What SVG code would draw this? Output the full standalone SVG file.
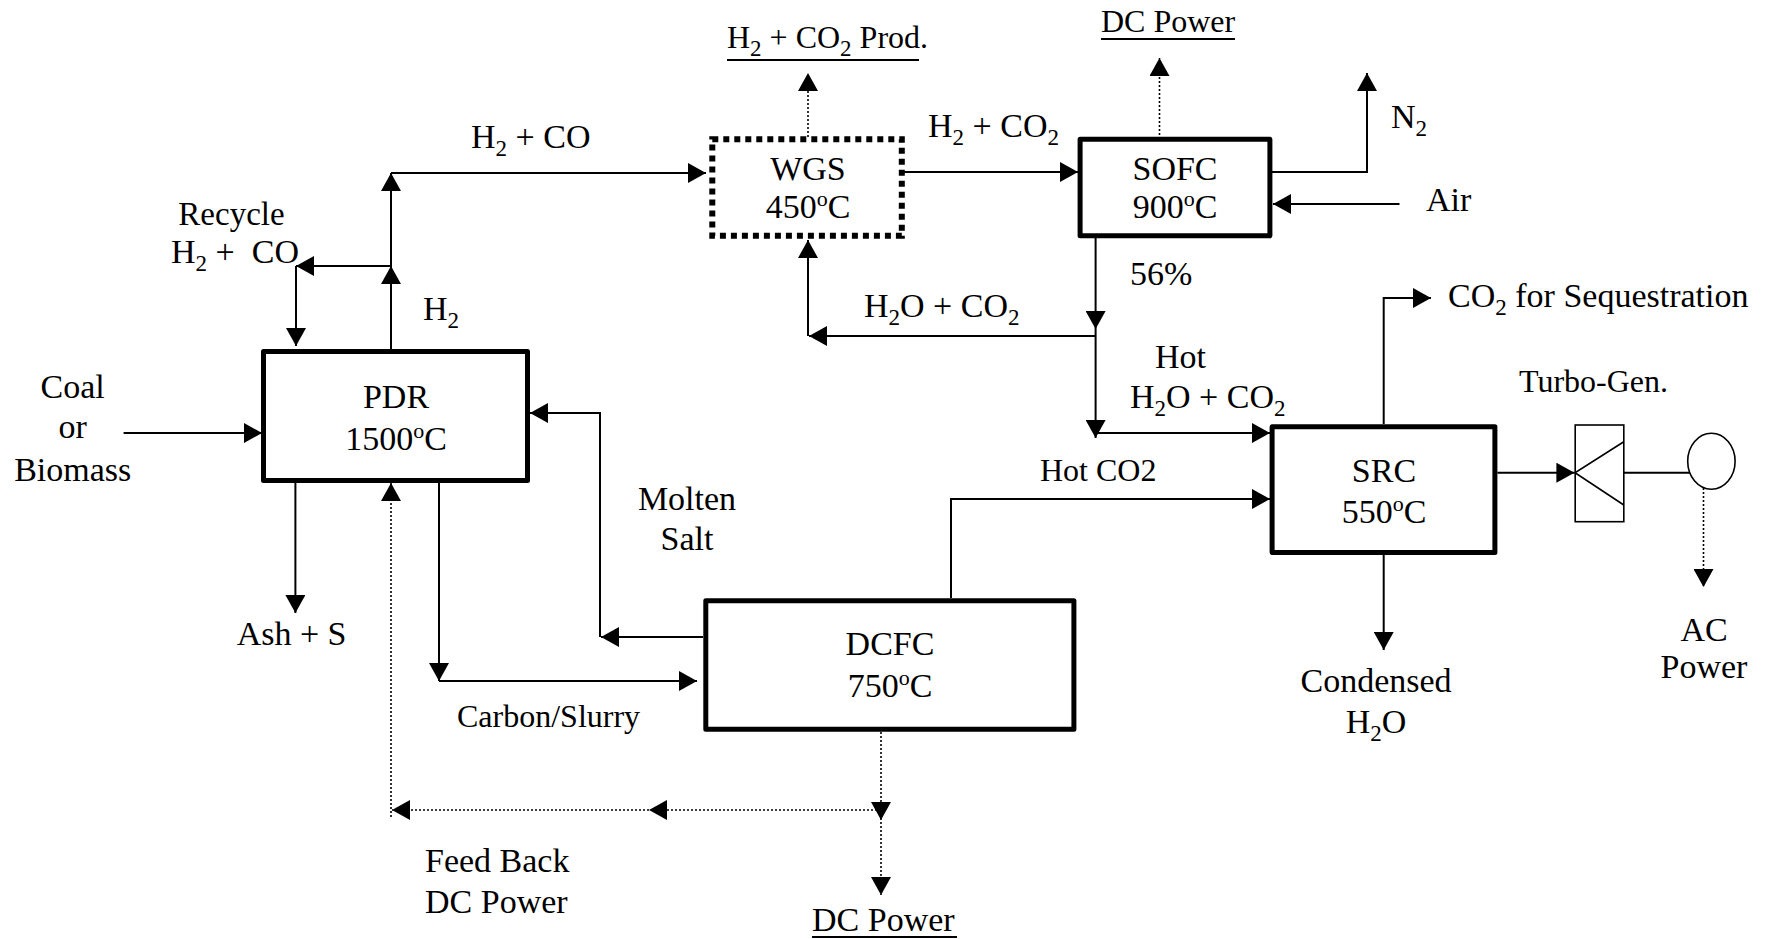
<svg xmlns="http://www.w3.org/2000/svg" width="1769" height="939" viewBox="0 0 1769 939">
<style>
text{font-family:"Liberation Serif","Times New Roman",serif;font-size:34px;fill:#000;white-space:pre}
.s32{font-size:32px}
.sub{font-size:23px}
.sup{font-size:22px}
.mid{text-anchor:middle}
.box{fill:#fff;stroke:#000;stroke-width:5;stroke-linejoin:round}
.wgs{fill:#fff;stroke:#000;stroke-width:6;stroke-dasharray:6 5}
.c{fill:none;stroke:#000;stroke-width:2}
.d{fill:none;stroke:#000;stroke-width:1.6;stroke-dasharray:2 2}
.ul{stroke:#000;stroke-width:2}
.thin{fill:#fff;stroke:#000;stroke-width:1.6}
</style>
<defs>
<marker id="ah" viewBox="0 0 18 20" refX="18" refY="10" markerWidth="18" markerHeight="20" markerUnits="userSpaceOnUse" orient="auto">
<path d="M0,0 L18,10 L0,20 z" fill="#000"/>
</marker>
</defs>
<rect width="1769" height="939" fill="#fff"/>

<g id="connectors">
<path class="c" d="M123.6,433 H262" marker-end="url(#ah)"/>
<path class="c" d="M391,349 V266" marker-end="url(#ah)"/>
<path class="c" d="M391,266 V173" marker-end="url(#ah)"/>
<path class="c" d="M391,173 H706" marker-end="url(#ah)"/>
<path class="c" d="M391,266 H296" marker-end="url(#ah)"/>
<path class="c" d="M296,266 V346" marker-end="url(#ah)"/>
<path class="c" d="M295.4,483 V613" marker-end="url(#ah)"/>
<path class="c" d="M439,473 V681" marker-end="url(#ah)"/>
<path class="c" d="M439,681 H697" marker-end="url(#ah)"/>
<path class="c" d="M703,637 H601" marker-end="url(#ah)"/>
<path class="c" d="M600,637 V413 H530" marker-end="url(#ah)"/>
<path class="d" d="M881,732 V820" marker-end="url(#ah)"/>
<path class="d" d="M881,810 V895" marker-end="url(#ah)"/>
<path class="d" d="M881,810 H649" marker-end="url(#ah)"/>
<path class="d" d="M649,810 H392" marker-end="url(#ah)"/>
<path class="d" d="M391,817 V483" marker-end="url(#ah)"/>
<path class="c" d="M951,598 V499 H1270" marker-end="url(#ah)"/>
<path class="c" d="M904,172 H1078" marker-end="url(#ah)"/>
<path class="d" d="M808,137 V73" marker-end="url(#ah)"/>
<path class="d" d="M1159.5,135 V58" marker-end="url(#ah)"/>
<path class="c" d="M1272,172 H1367 V73" marker-end="url(#ah)"/>
<path class="c" d="M1399.5,204 H1273" marker-end="url(#ah)"/>
<path class="c" d="M1095.6,238 V329" marker-end="url(#ah)"/>
<path class="c" d="M1095.6,329 V438" marker-end="url(#ah)"/>
<path class="c" d="M1095.6,336 H809" marker-end="url(#ah)"/>
<path class="c" d="M808,336 V240" marker-end="url(#ah)"/>
<path class="c" d="M1095.6,433 H1270" marker-end="url(#ah)"/>
<path class="c" d="M1497.4,472.7 H1574.4" marker-end="url(#ah)"/>
<path class="c" d="M1623.8,472.7 H1690"/>
<path class="d" d="M1703.5,488 V587" marker-end="url(#ah)"/>
<path class="c" d="M1383.7,424 V298 H1431" marker-end="url(#ah)"/>
<path class="c" d="M1383.7,555 V650" marker-end="url(#ah)"/>
</g>

<g id="pdr">
<rect class="box" x="263.5" y="351.5" width="264" height="129"/>
<text class="mid" x="396" y="408">PDR</text>
<text class="mid" x="396" y="450">1500<tspan class="sup" dy="-12">o</tspan><tspan dy="12">C</tspan></text>
</g>

<g id="wgs">
<rect class="wgs" x="712.3" y="139.2" width="189.5" height="96.6"/>
<text class="mid" x="808" y="180">WGS</text>
<text class="mid" x="808" y="218">450<tspan class="sup" dy="-12">o</tspan><tspan dy="12">C</tspan></text>
</g>

<g id="sofc">
<rect class="box" x="1080.1" y="139.2" width="189.8" height="96.6"/>
<text class="mid" x="1175" y="180">SOFC</text>
<text class="mid" x="1175" y="218">900<tspan class="sup" dy="-12">o</tspan><tspan dy="12">C</tspan></text>
</g>

<g id="dcfc">
<rect class="box" x="705.8" y="600.8" width="368.1" height="128.4"/>
<text class="mid" x="890" y="655">DCFC</text>
<text class="mid" x="890" y="697">750<tspan class="sup" dy="-12">o</tspan><tspan dy="12">C</tspan></text>
</g>

<g id="src">
<rect class="box" x="1272.1" y="426.8" width="222.8" height="125.7"/>
<text class="mid" x="1384" y="482">SRC</text>
<text class="mid" x="1384" y="523">550<tspan class="sup" dy="-12">o</tspan><tspan dy="12">C</tspan></text>
</g>

<g id="turbo-gen">
<rect class="thin" x="1575.2" y="425" width="48.6" height="96.7"/>
<path class="c" style="stroke-width:1.6" d="M1623.8,441.7 L1575,472.7 L1623.8,505"/>
<text class="s32" x="1519" y="392">Turbo-Gen.</text>
</g>

<g id="generator">
<ellipse class="thin" cx="1711.4" cy="461.3" rx="23.7" ry="28"/>
</g>

<g id="labels">
<text x="471" y="148">H<tspan class="sub" dy="8">2</tspan><tspan dy="-8"> + CO</tspan></text>
<text class="mid" x="231.5" y="225" style="font-size:33px">Recycle</text>
<text x="171" y="263">H<tspan class="sub" dy="8">2</tspan><tspan dy="-8"> +  CO</tspan></text>
<text x="423" y="320">H<tspan class="sub" dy="8">2</tspan></text>
<text class="mid" x="72.7" y="398">Coal</text>
<text class="mid" x="72.7" y="438">or</text>
<text class="mid" x="72.7" y="481">Biomass</text>
<text class="mid" x="291.6" y="645">Ash + S</text>
<text class="s32" x="457" y="727">Carbon/Slurry</text>
<text class="mid" x="687" y="510">Molten</text>
<text class="mid" x="687" y="550">Salt</text>
<text x="425" y="872">Feed Back</text>
<text x="425" y="913">DC Power</text>
<g id="dc-power-bottom">
<text x="812" y="931">DC Power</text>
<line class="ul" x1="812" y1="937" x2="957" y2="937"/>
</g>
<text class="s32" x="1040" y="481">Hot CO2</text>
<g id="h2co2-prod">
<text class="s32" x="727" y="48">H<tspan class="sub" dy="8">2</tspan><tspan dy="-8"> + CO</tspan><tspan class="sub" dy="8">2</tspan><tspan dy="-8"> Prod.</tspan></text>
<line class="ul" x1="727" y1="60" x2="919" y2="60"/>
</g>
<text x="928" y="137">H<tspan class="sub" dy="8">2</tspan><tspan dy="-8"> + CO</tspan><tspan class="sub" dy="8">2</tspan></text>
<g id="dc-power-top">
<text class="s32" x="1101" y="32">DC Power</text>
<line class="ul" x1="1101" y1="39" x2="1235" y2="39"/>
</g>
<text x="1391" y="128">N<tspan class="sub" dy="8">2</tspan></text>
<text x="1426" y="211">Air</text>
<text x="1130" y="285">56%</text>
<text x="864" y="317">H<tspan class="sub" dy="8">2</tspan><tspan dy="-8">O + CO</tspan><tspan class="sub" dy="8">2</tspan></text>
<text x="1155" y="368">Hot</text>
<text x="1130" y="408">H<tspan class="sub" dy="8">2</tspan><tspan dy="-8">O + CO</tspan><tspan class="sub" dy="8">2</tspan></text>
<text x="1448" y="307">CO<tspan class="sub" dy="8">2</tspan><tspan dy="-8"> for Sequestration</tspan></text>
<text class="mid" x="1376" y="692">Condensed</text>
<text class="mid" x="1376" y="733">H<tspan class="sub" dy="8">2</tspan><tspan dy="-8">O</tspan></text>
<text class="mid" x="1704" y="641">AC</text>
<text class="mid" x="1704" y="678">Power</text>
</g>
</svg>
